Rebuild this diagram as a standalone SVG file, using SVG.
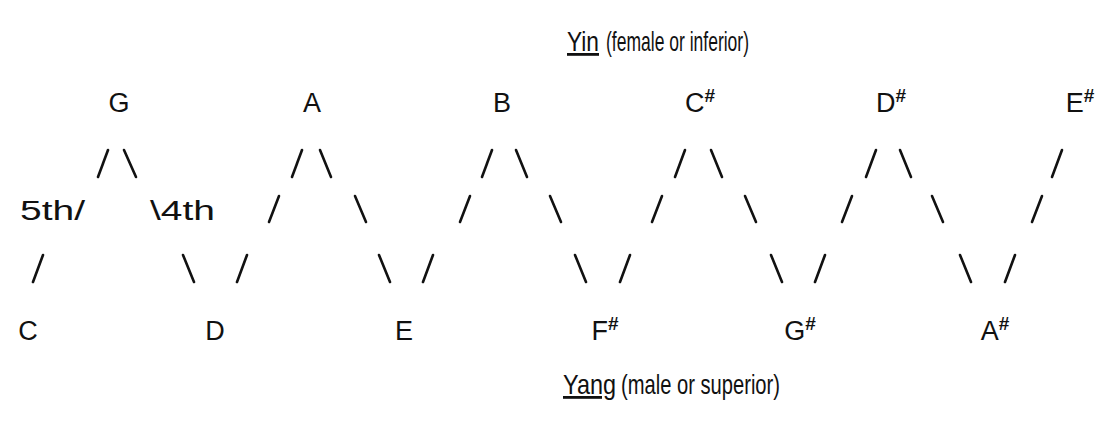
<svg xmlns="http://www.w3.org/2000/svg" width="1108" height="438" viewBox="0 0 1108 438">
  <style>
    text { font-family: "Liberation Sans", "DejaVu Sans", sans-serif; fill: #111; }
    .note { font-size: 27px; text-anchor: middle; }
    .sharp { font-size: 19px; font-weight: bold; }
    .label { font-size: 27px; }
    .title { font-size: 28px; }
    .u { text-decoration: underline; }
    #connectors line { stroke: #111; stroke-width: 2.6; stroke-linecap: round; }
  </style>
  <rect width="1108" height="438" fill="#ffffff"/>

  <!-- heading: yin row -->
  <g id="yin-title">
    <text class="title u" x="567" y="51" textLength="32" lengthAdjust="spacingAndGlyphs">Yin</text>
    <text class="title" x="606" y="51" textLength="143" lengthAdjust="spacingAndGlyphs">(female or inferior)</text>
  </g>

  <!-- upper notes -->
  <g id="note-G"><text class="note" x="119" y="112">G</text></g>
  <g id="note-A"><text class="note" x="312" y="112">A</text></g>
  <g id="note-B"><text class="note" x="502" y="112">B</text></g>
  <g id="note-Cs"><text class="note" x="700" y="112">C<tspan class="sharp" dy="-10">#</tspan></text></g>
  <g id="note-Ds"><text class="note" x="891" y="112">D<tspan class="sharp" dy="-10">#</tspan></text></g>
  <g id="note-Es"><text class="note" x="1080" y="112">E<tspan class="sharp" dy="-10">#</tspan></text></g>

  <!-- interval labels -->
  <g id="label-5th"><text class="label" x="20" y="220" textLength="65" lengthAdjust="spacingAndGlyphs">5th/</text></g>
  <g id="label-4th"><text class="label" x="150" y="220" textLength="65" lengthAdjust="spacingAndGlyphs">\4th</text></g>

  <!-- lower notes -->
  <g id="note-C"><text class="note" x="28" y="340">C</text></g>
  <g id="note-D"><text class="note" x="215" y="340">D</text></g>
  <g id="note-E"><text class="note" x="404" y="340">E</text></g>
  <g id="note-Fs"><text class="note" x="605" y="340">F<tspan class="sharp" dy="-10">#</tspan></text></g>
  <g id="note-Gs"><text class="note" x="800" y="340">G<tspan class="sharp" dy="-10">#</tspan></text></g>
  <g id="note-As"><text class="note" x="995" y="340">A<tspan class="sharp" dy="-10">#</tspan></text></g>

  <!-- heading: yang row -->
  <g id="yang-title">
    <text class="title u" x="563" y="394" textLength="53" lengthAdjust="spacingAndGlyphs">Yang</text>
    <text class="title" x="621" y="394" textLength="159" lengthAdjust="spacingAndGlyphs">(male or superior)</text>
  </g>

  <!-- slash connectors between the notes -->
  <g id="connectors">
    <!-- row 2 -->
    <line x1="108" y1="150" x2="98" y2="177"/>
    <line x1="124" y1="150" x2="136" y2="177"/>
    <line x1="302" y1="150" x2="292" y2="177"/>
    <line x1="320" y1="150" x2="331" y2="177"/>
    <line x1="492" y1="150" x2="482" y2="177"/>
    <line x1="516" y1="150" x2="527" y2="177"/>
    <line x1="685" y1="150" x2="675" y2="177"/>
    <line x1="711" y1="150" x2="722" y2="177"/>
    <line x1="876" y1="150" x2="866" y2="177"/>
    <line x1="900" y1="150" x2="911" y2="177"/>
    <line x1="1062" y1="150" x2="1052" y2="177"/>
    <!-- row 3 -->
    <line x1="279" y1="196" x2="269" y2="222"/>
    <line x1="355" y1="196" x2="366" y2="222"/>
    <line x1="470" y1="196" x2="460" y2="222"/>
    <line x1="550" y1="196" x2="561" y2="222"/>
    <line x1="662" y1="196" x2="652" y2="222"/>
    <line x1="745" y1="196" x2="756" y2="222"/>
    <line x1="852" y1="196" x2="842" y2="222"/>
    <line x1="932" y1="196" x2="943" y2="222"/>
    <line x1="1042" y1="196" x2="1032" y2="222"/>
    <!-- row 4 -->
    <line x1="43" y1="255" x2="33" y2="282"/>
    <line x1="183" y1="255" x2="194" y2="282"/>
    <line x1="247" y1="255" x2="237" y2="282"/>
    <line x1="379" y1="255" x2="390" y2="282"/>
    <line x1="433" y1="255" x2="423" y2="282"/>
    <line x1="575" y1="255" x2="586" y2="282"/>
    <line x1="630" y1="255" x2="620" y2="282"/>
    <line x1="771" y1="255" x2="782" y2="282"/>
    <line x1="825" y1="255" x2="815" y2="282"/>
    <line x1="960" y1="255" x2="971" y2="282"/>
    <line x1="1015" y1="255" x2="1005" y2="282"/>
  </g>
</svg>
